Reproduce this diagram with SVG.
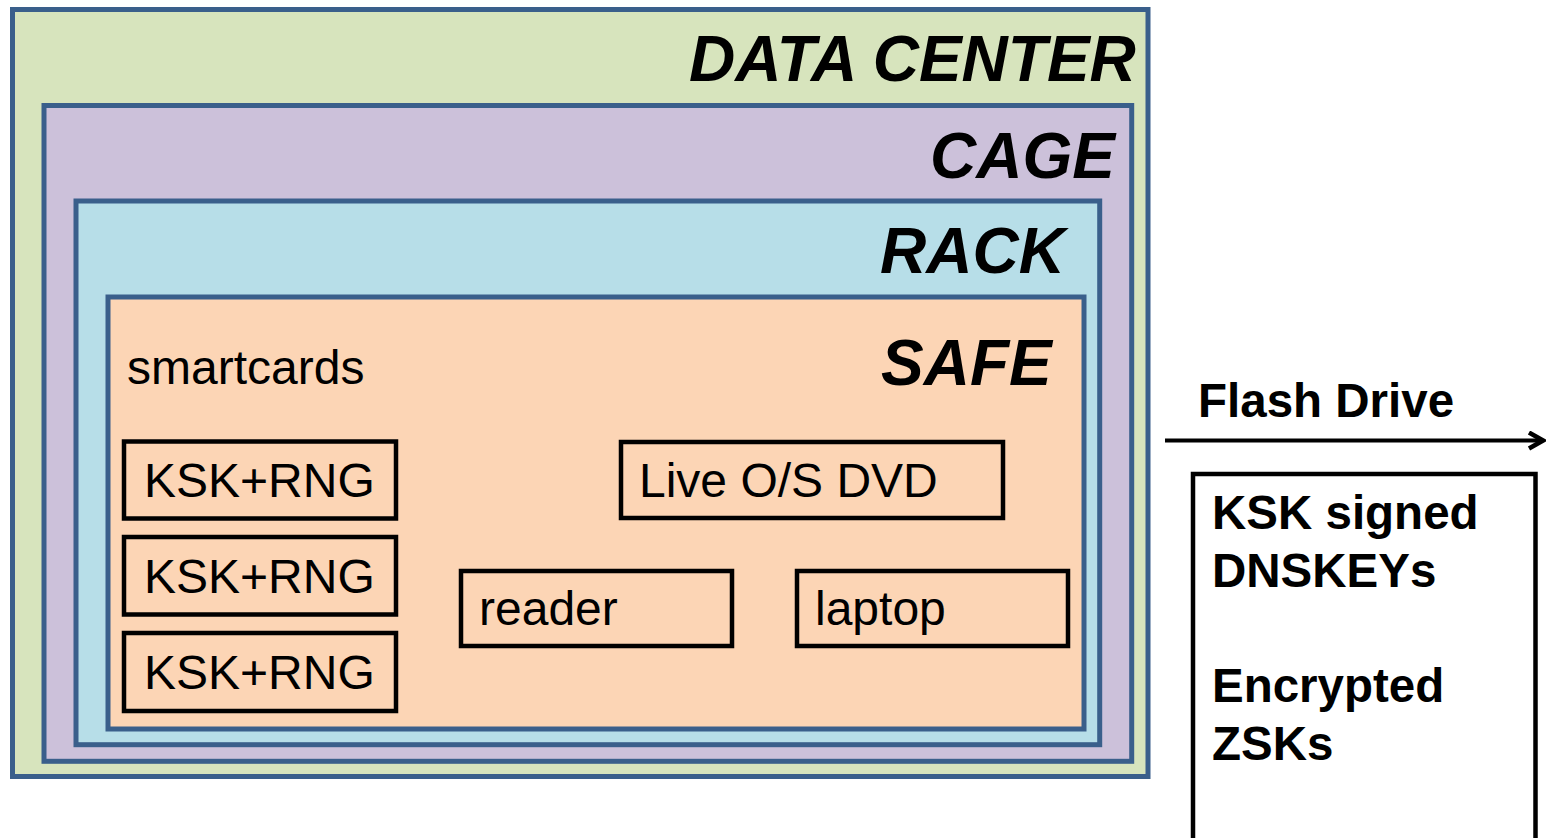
<svg xmlns="http://www.w3.org/2000/svg" width="1546" height="838" viewBox="0 0 1546 838">
<style>
.zone{stroke:#3A5F8B;stroke-width:5}
.box{fill:none;stroke:#000;stroke-width:4.5}
.title{font-family:"Liberation Sans",Arial,sans-serif;font-weight:bold;font-style:italic;font-size:64px;fill:#000}
.lbl{font-family:"Liberation Sans",Arial,sans-serif;font-size:48px;fill:#000}
.bold{font-family:"Liberation Sans",Arial,sans-serif;font-weight:bold;font-size:47.5px;fill:#000}
</style>
<defs>
<marker id="chev" viewBox="0 0 20 20" refX="17" refY="10" markerWidth="20" markerHeight="20" markerUnits="userSpaceOnUse" orient="auto">
<path d="M3,2 L17,10 L3,18" fill="none" stroke="#000" stroke-width="4.5"/>
</marker>
</defs>
<rect width="1546" height="838" fill="#fff"/>
<g id="datacenter">
<rect class="zone" x="12.5" y="9.5" width="1135.5" height="767" fill="#D7E4BD"/>
<text class="title" x="689" y="81">DATA CENTER</text>
</g>
<g id="cage">
<rect class="zone" x="44" y="105.5" width="1087.7" height="655.8" fill="#CCC1DA"/>
<text class="title" x="930" y="178">CAGE</text>
</g>
<g id="rack">
<rect class="zone" x="76" y="201" width="1023.7" height="543.7" fill="#B7DEE8"/>
<text class="title" x="880" y="273">RACK</text>
</g>
<g id="safe">
<rect class="zone" x="108" y="297" width="976" height="432" fill="#FCD5B5"/>
<text class="title" x="881" y="385">SAFE</text>
<text class="lbl" x="127" y="384">smartcards</text>
</g>
<g id="ksk1">
<rect class="box" x="124" y="441.5" width="272" height="77"/>
<text class="lbl" x="144" y="497">KSK+RNG</text>
</g>
<g id="ksk2">
<rect class="box" x="124" y="537" width="272" height="77.5"/>
<text class="lbl" x="144" y="593">KSK+RNG</text>
</g>
<g id="ksk3">
<rect class="box" x="124" y="633" width="272" height="78"/>
<text class="lbl" x="144" y="689">KSK+RNG</text>
</g>
<g id="livedvd">
<rect class="box" x="621" y="442" width="382" height="76"/>
<text class="lbl" x="639" y="497">Live O/S DVD</text>
</g>
<g id="reader">
<rect class="box" x="461" y="571" width="271" height="75"/>
<text class="lbl" x="479" y="625">reader</text>
</g>
<g id="laptop">
<rect class="box" x="797" y="571" width="271" height="75"/>
<text class="lbl" x="815" y="625">laptop</text>
</g>
<g id="connectors">
<line x1="1165" y1="440.5" x2="1543" y2="440.5" stroke="#000" stroke-width="4" marker-end="url(#chev)"/>
</g>
<g id="flashdrive-label">
<text class="bold" x="1198" y="417">Flash Drive</text>
</g>
<g id="flashdrive">
<rect class="box" x="1193" y="474" width="342.5" height="380"/>
<text class="bold" x="1212" y="529">KSK signed</text>
<text class="bold" x="1212" y="587">DNSKEYs</text>
<text class="bold" x="1212" y="702">Encrypted</text>
<text class="bold" x="1212" y="760">ZSKs</text>
</g>
</svg>
